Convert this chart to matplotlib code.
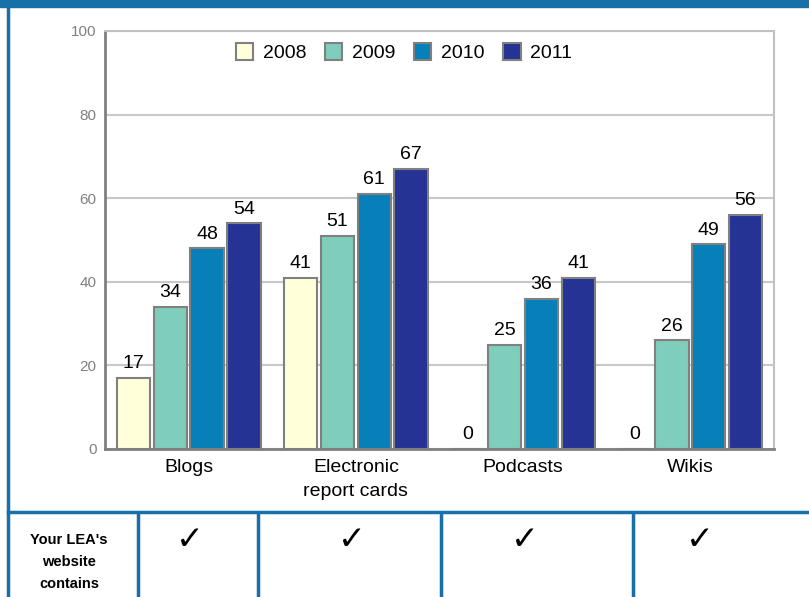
import matplotlib
matplotlib.use("Agg")
import matplotlib.pyplot as plt
import numpy as np
from matplotlib.lines import Line2D
from matplotlib.patches import Rectangle

plt.rcParams["font.family"] = ["Liberation Sans", "DejaVu Sans"]

categories = ["Blogs", "Electronic\nreport cards", "Podcasts", "Wikis"]
years = ["2008", "2009", "2010", "2011"]
values = {
    "2008": [17, 41, 0, 0],
    "2009": [34, 51, 25, 26],
    "2010": [48, 61, 36, 49],
    "2011": [54, 67, 41, 56],
}
colors = ["#ffffd9", "#7fcdbb", "#077fb9", "#253494"]
row_label = "Your LEA's\nwebsite\ncontains"
checks = ["\u2713", "\u2713", "\u2713", "\u2713"]

W, H = 809, 597
BLUE = "#1870a9"

fig = plt.figure(figsize=(W / 100, H / 100), dpi=100)


def px(x, y):
    # pixel position (from top-left) to figure fraction
    return x / W, 1 - y / H


# axes box in pixels
left, top, right, bottom = 105, 31, 774, 449
ax = fig.add_axes([left / W, 1 - bottom / H, (right - left) / W, (bottom - top) / H])

x = np.arange(len(categories))
step, width = 0.22, 0.2
for i, (yr, c) in enumerate(zip(years, colors)):
    pos = x + (i - 1.5) * step
    bars = ax.bar(pos, values[yr], width, color=c, edgecolor="#808080",
                  linewidth=1.5, label=yr, zorder=3)
    for b, v in zip(bars, values[yr]):
        ax.annotate(str(v), (b.get_x() + b.get_width() / 2, v),
                    xytext=(0, 4), textcoords="offset points",
                    ha="center", va="bottom", fontsize=14, color="black")

ax.set_xlim(-0.5, 3.5)
ax.set_ylim(0, 100)
ax.set_yticks([0, 20, 40, 60, 80, 100])
ax.yaxis.grid(True, color="#c8c8c8", linewidth=1.5, zorder=0)
ax.set_xticks(x)
ax.set_xticklabels(categories, fontsize=14, linespacing=1.55)
ax.tick_params(axis="x", length=0, pad=7)
ax.tick_params(axis="y", length=0, pad=6, labelsize=11, labelcolor="#808080")
for s in ["left", "bottom"]:
    ax.spines[s].set_color("#808080")
    ax.spines[s].set_linewidth(2)
for s in ["top", "right"]:
    ax.spines[s].set_color("#c0c0c0")
    ax.spines[s].set_linewidth(1.5)

ax.legend(loc="upper center", bbox_to_anchor=(0.447, 1.012), ncol=4, frameon=False,
          fontsize=14, handlelength=0.9, handleheight=0.9, handletextpad=0.5,
          columnspacing=0.95)

# frame: top band, left edge, table rule and column separators
fig.add_artist(Rectangle(px(0, 7), 1, 7 / H, color=BLUE, transform=fig.transFigure))
fig.add_artist(Line2D([px(8, 0)[0]] * 2, [px(0, 7)[1], 0], color=BLUE, lw=2.5))
fig.add_artist(Line2D([px(8, 0)[0], 1], [px(0, 512)[1]] * 2, color=BLUE, lw=2.5))
for cx in [138, 258, 441, 633]:
    fig.add_artist(Line2D([px(cx, 0)[0]] * 2, [px(0, 513)[1], 0], color=BLUE, lw=2.5))

fig.text(*px(69, 562), row_label, ha="center", va="center", fontsize=10.5,
         fontweight="bold", linespacing=1.75)
for cx, mark in zip([190, 352, 525, 700], checks):
    fig.text(*px(cx, 539), mark, ha="center", va="center", fontsize=24,
             family="DejaVu Sans")

fig.savefig("out.png", dpi=100, facecolor="white")
